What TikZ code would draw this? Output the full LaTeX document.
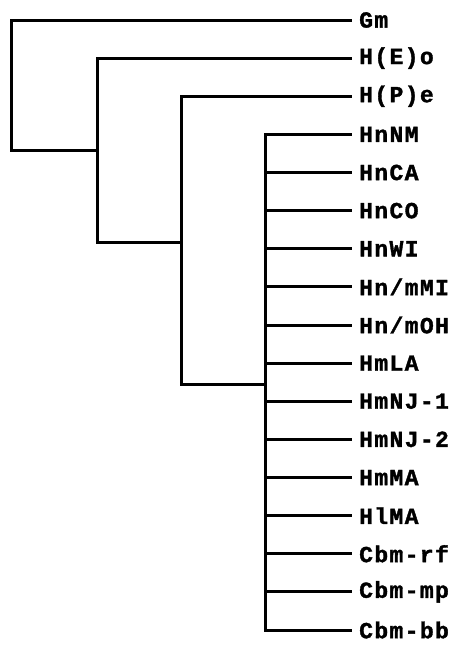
\documentclass[tikz,border=0pt]{standalone}
\usepackage{fontspec}
\newfontfamily\leaffont[LetterSpace=6,FakeBold=1.5]{Liberation Mono}
\begin{document}
\begin{tikzpicture}[x=1pt,y=-1pt,
  leaf/.style={anchor=west,inner xsep=9pt,inner ysep=0pt,font=\leaffont\bfseries\fontsize{23}{25}\selectfont},
  branch/.style={line width=3pt,line cap=rect}]
\useasboundingbox (0,0) rectangle (455,648);
\foreach \lab [count=\i from 0] in {Gm,H(E)o,H(P)e,HnNM,HnCA,HnCO,HnWI,Hn/mMI,Hn/mOH,HmLA,HmNJ-1,HmNJ-2,HmMA,HlMA,Cbm-rf,Cbm-mp,Cbm-bb}
  \node[leaf] (l\i) at (350,{20+38.125*\i}) {\lab};
\coordinate (n1) at (11,150);
\coordinate (j2) at (97,150);
\coordinate (n2) at (97,242);
\coordinate (j3) at (181,242);
\coordinate (n3) at (181,384);
\coordinate (j4) at (265,384);
\coordinate (n4) at (265,630);
\draw[branch] (l0.west) -| (n1) -- (j2);
\draw[branch] (l1.west) -| (n2) -- (j3);
\draw[branch] (l2.west) -| (n3) -- (j4);
\draw[branch] (l3.west) -| (n4) -- (l16.west);
\foreach \i in {4,...,15}
  \draw[branch] (l\i.west) -- (l\i.west -| n4);
\end{tikzpicture}
\end{document}
